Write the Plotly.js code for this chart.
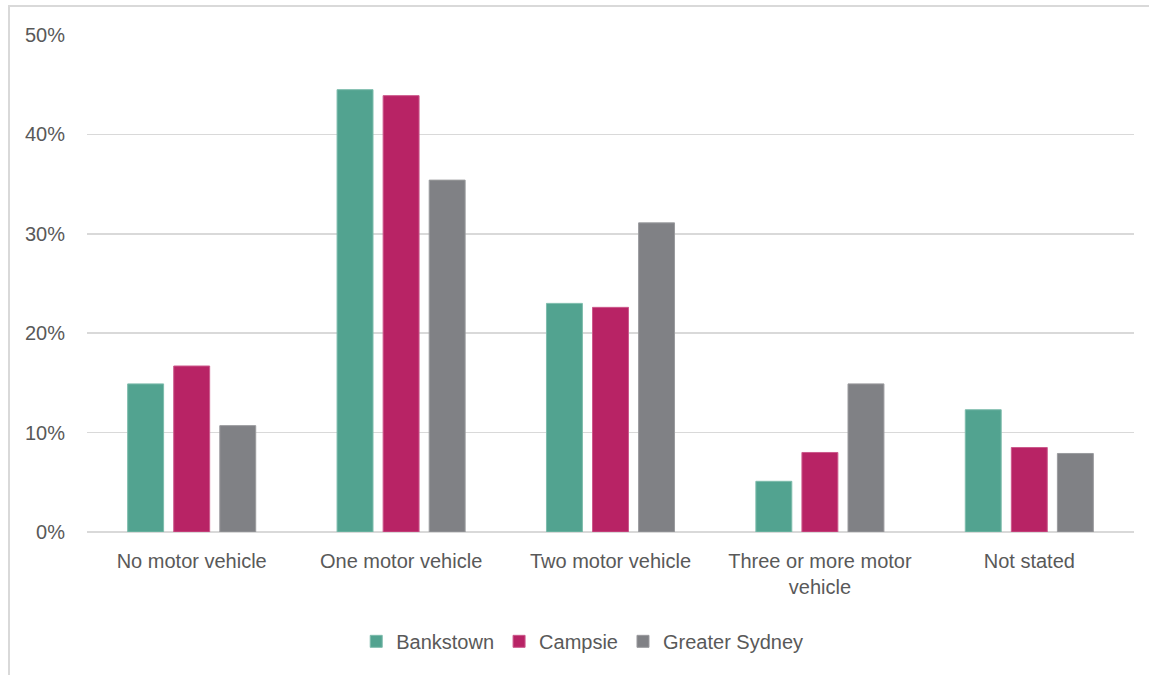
<!DOCTYPE html>
<html>
<head>
<meta charset="utf-8">
<script src="https://cdn.plot.ly/plotly-3.0.1.min.js"></script>
<style>
  html, body { margin: 0; padding: 0; background: #fff; }
  #wrap { position: relative; width: 1149px; height: 675px; overflow: hidden; }
  #frame { position: absolute; left: 8px; top: 5px; width: 1160px; height: 700px;
           border-left: 2px solid #d9d9d9; border-top: 2px solid #d9d9d9; box-sizing: border-box; }
  #chart { position: absolute; left: 0; top: 0; width: 1149px; height: 675px; }
</style>
</head>
<body>
<div id="wrap">
  <div id="frame"></div>
  <div id="chart"></div>
</div>
<script>
// Household motor vehicle ownership (% of dwellings)
const categories = [
  "No motor vehicle",
  "One motor vehicle",
  "Two motor vehicle",
  "Three or more motor<br>vehicle",
  "Not stated"
];
const bankstown     = [14.9, 44.5, 23.0, 5.1, 12.3];
const campsie       = [16.7, 43.9, 22.6, 8.0, 8.5];
const greaterSydney = [10.7, 35.4, 31.1, 14.9, 7.9];
const yTicks = [0, 10, 20, 30, 40, 50];

const FONT = '"Liberation Sans Narrow", "Arial Narrow", "Liberation Sans", Arial, sans-serif';
const TEXT = '#595959';

function series(name, values, color, edge) {
  return {
    type: 'bar',
    name: name,
    x: categories,
    y: values,
    marker: { color: color, line: { color: edge, width: 1 } },
    hoverinfo: 'skip'
  };
}

const data = [
  series('Bankstown', bankstown, '#52a390', '#7dbcac'),
  series('Campsie', campsie, '#b82365', '#cc5a8c'),
  series('Greater Sydney', greaterSydney, '#808185', '#9a9b9e')
];

const layout = {
  width: 1149,
  height: 675,
  margin: { l: 87, r: 15, t: 35, b: 143 },
  paper_bgcolor: 'rgba(0,0,0,0)',
  plot_bgcolor: 'rgba(0,0,0,0)',
  font: { family: FONT, size: 20, color: TEXT },
  barmode: 'group',
  bargap: 0.34,
  bargroupgap: 0.22,
  showlegend: true,
  legend: {
    orientation: 'h',
    x: 0.473, xanchor: 'center',
    y: -0.22, yanchor: 'middle',
    font: { family: FONT, size: 20, color: TEXT },
    itemwidth: 30,
    tracegroupgap: 0
  },
  xaxis: {
    type: 'category',
    showgrid: false,
    showline: false,
    zeroline: false,
    ticks: '',
    ticklabelstandoff: 15,
    tickfont: { family: FONT, size: 20, color: TEXT }
  },
  yaxis: {
    range: [0, 50],
    tickvals: yTicks,
    ticktext: yTicks.map(v => v + '%'),
    showgrid: true,
    gridcolor: '#d9d9d9',
    gridwidth: 1.5,
    zeroline: true,
    zerolinecolor: '#d9d9d9',
    zerolinewidth: 2,
    showline: false,
    ticks: '',
    ticklabelstandoff: 21,
    tickfont: { family: FONT, size: 20, color: TEXT }
  }
};

Plotly.newPlot('chart', data, layout, { staticPlot: true, displayModeBar: false });
</script>
</body>
</html>
